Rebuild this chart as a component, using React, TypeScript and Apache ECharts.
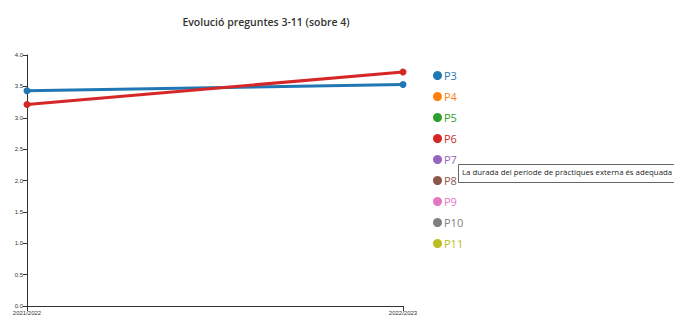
import React, { useEffect, useRef } from "react";
import * as echarts from "echarts";

const title = "Evolució preguntes 3-11 (sobre 4)";
const years = ["2021/2022", "2022/2023"];
const seriesNames = ["P3", "P4", "P5", "P6", "P7", "P8", "P9", "P10", "P11"];
const seriesColors = ["#1f77b4", "#ff7f0e", "#2ca02c", "#d62728", "#9467bd", "#8c564b", "#e377c2", "#7f7f7f", "#bcbd22"];
const p3Values = [3.43, 3.53];
const p6Values = [3.21, 3.73];
const emptyValues: number[] = [];
const tooltipText = "La durada del període de pràctiques externa és adequada";

const valuesByName: Record<string, number[]> = { P3: p3Values, P6: p6Values };

export default function App() {
  const ref = useRef<HTMLDivElement>(null);
  useEffect(() => {
    if (!ref.current) return;
    const chart = echarts.init(ref.current, undefined, { renderer: "svg" });
    const font = "'Open Sans', 'Noto Sans', sans-serif";
    chart.setOption({
      animation: false,
      title: {
        text: title,
        left: 261,
        top: 11,
        textAlign: "center",
        textStyle: { fontFamily: font, fontSize: 10.5, fontWeight: 600, color: "#333" },
      },
      grid: { left: 27, right: 271, top: 55, bottom: 9, containLabel: false },
      xAxis: {
        type: "category",
        data: years,
        boundaryGap: false,
        axisLine: { lineStyle: { color: "#333", width: 1 } },
        axisTick: { show: true, length: 5, lineStyle: { color: "#333" } },
        axisLabel: { fontSize: 6, color: "#333", margin: 4, fontFamily: "sans-serif" },
      },
      yAxis: {
        type: "value",
        min: 0,
        max: 4,
        interval: 0.5,
        axisLine: { show: true, lineStyle: { color: "#333", width: 1 } },
        axisTick: { show: true, length: 4, lineStyle: { color: "#333" } },
        splitLine: { show: false },
        axisLabel: {
          fontSize: 6,
          color: "#333",
          margin: 4,
          fontFamily: "sans-serif",
          formatter: (v: number) => v.toFixed(1),
        },
      },
      legend: {
        orient: "vertical",
        left: 428,
        top: 65,
        icon: "circle",
        itemWidth: 9,
        itemHeight: 9,
        itemGap: 10,
        selectedMode: false,
        textStyle: { fontSize: 11, fontFamily: font, padding: [0, 0, 0, -3] },
        data: seriesNames.map((n, i) => ({ name: n, textStyle: { color: seriesColors[i] } })),
      },
      series: seriesNames.map((n, i) => ({
        name: n,
        type: "line",
        data: valuesByName[n] || emptyValues,
        color: seriesColors[i],
        symbol: "circle",
        symbolSize: 7,
        showSymbol: true,
        lineStyle: { width: 3, color: seriesColors[i] },
        itemStyle: { color: seriesColors[i] },
      })),
      graphic: [
        {
          type: "rect",
          left: 458,
          top: 164,
          shape: { width: 230, height: 18 },
          style: { fill: "#fff", stroke: "#666", lineWidth: 1 },
          z: 100,
        },
        {
          type: "text",
          left: 462,
          top: 168,
          style: { text: tooltipText, fontSize: 7.8, fontFamily: font, fill: "#222" },
          z: 101,
        },
      ],
    });
    return () => chart.dispose();
  }, []);
  return (
    <div
      ref={ref}
      style={{ position: "fixed", left: 0, top: 0, width: 674, height: 316, background: "#fff" }}
    />
  );
}
